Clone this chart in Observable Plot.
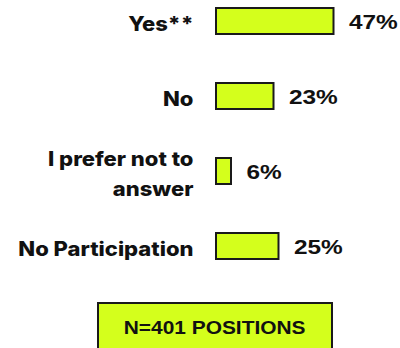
<!DOCTYPE html>
<html><head><meta charset="utf-8">
<script src="https://cdn.jsdelivr.net/npm/d3@7"></script>
<script src="https://cdn.jsdelivr.net/npm/@observablehq/plot@0.6"></script>
<style>
body{margin:0;background:#fff;width:400px;height:348px;overflow:hidden;position:relative;}
#note{position:absolute;left:97px;top:302px;width:232px;height:48px;border:2px solid #1a1a1a;background:#d4ff1c;display:flex;align-items:center;justify-content:center;font-family:"Liberation Sans",Arial,sans-serif;font-weight:bold;font-size:19px;color:#111;}
#note span{display:inline-block;transform:scaleX(1.1);}
</style></head><body>
<div id="chart"></div>
<div id="note"><span></span></div>
<script>
const categories = ["Yes**", "No", "I prefer not to\nanswer", "No Participation"];
const values = [47, 23, 6, 25];
const valueLabels = ["47%", "23%", "6%", "25%"];
const noteText = "N=401 POSITIONS";

const data = categories.map((c, i) => ({category: c, value: values[i], label: valueLabels[i]}));
const barFill = "#d4ff1c";

const chart = Plot.plot({
  width: 400, height: 300, margin: 0,
  style: {background: "#fff", overflow: "visible"},
  x: {domain: [0, 100], range: [216, 466], axis: null},
  y: {domain: categories, range: [8, 259.25], paddingInner: 0.65, paddingOuter: 0, axis: null},
  marks: [
    Plot.barX(data, {x: "value", y: "category", fill: barFill, stroke: "#1a1a1a", strokeWidth: 2}),
    Plot.text(data, {x: "value", y: "category", text: "label", textAnchor: "start", dx: 15, dy: 1,
      fontSize: 21, fontWeight: "bold", fontFamily: "Liberation Sans, Arial, sans-serif", fill: "#111",
      className: "val"}),
    Plot.text(data, {x: 0, y: "category", text: "category", textAnchor: "end", dx: -23, dy: 0,
      fontSize: 20, fontWeight: 800, fontFamily: "Inter, sans-serif", lineHeight: 1.5, fill: "#111",
      className: "cat"})
  ]
});
document.getElementById("chart").appendChild(chart);
document.querySelector("#note span").textContent = noteText;

// horizontal stretch of glyphs to match the reference's wide lettering
function stretchText(sel, k) {
  chart.querySelectorAll(sel + " text").forEach(t => {
    const spans = t.querySelectorAll("tspan");
    const els = spans.length ? Array.from(spans) : [t];
    els.forEach(el => {
      const len = el.getComputedTextLength();
      el.setAttribute("textLength", (len * k).toFixed(1));
      el.setAttribute("lengthAdjust", "spacingAndGlyphs");
    });
  });
}
stretchText(".val", 1.16);
stretchText(".cat", 1.1);
</script>
</body></html>
